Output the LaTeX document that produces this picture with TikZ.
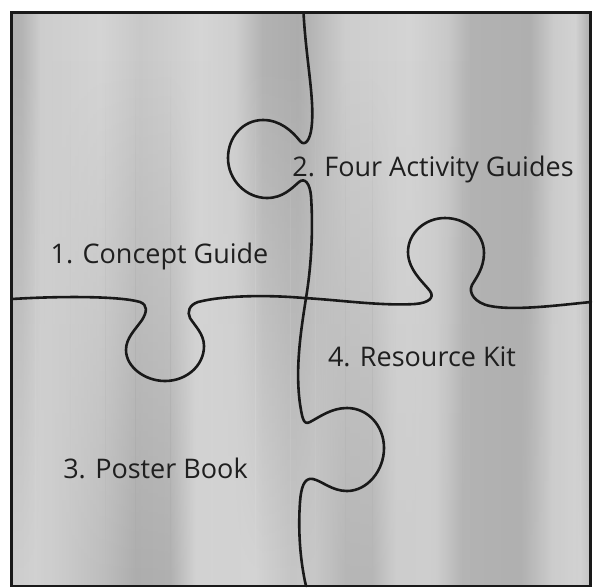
\documentclass[tikz,border=0pt]{standalone}
\usepackage{fontspec}
\setmainfont{Open Sans}
\usetikzlibrary{fadings}
\begin{document}
\begin{tikzpicture}[x=1pt,y=-1pt,
  seam/.style={line width=2.6pt, line cap=round, line join=round, draw=black!90},
  frame/.style={line width=2.8pt, draw=black!90},
  piecetext/.style={font=\fontsize{27}{30}\selectfont, text=black!88, anchor=base, inner sep=0pt}]
\useasboundingbox (0,0) rectangle (593,587);
\fill[white] (0,0) rectangle (593,587);

% upper layer of soft vertical streaks
\foreach \xa/\ga/\xb/\gb in {11/176/22/180, 22/180/40/205, 40/205/100/212, 100/212/140/200,
    140/200/165/205, 165/205/200/213, 200/213/235/206, 235/206/262/178, 262/178/298/172,
    298/172/318/186, 318/186/345/205, 345/205/410/212, 410/212/448/200, 448/200/470/178,
    470/178/530/175, 530/175/553/203, 553/203/575/210, 575/210/586/182, 586/182/591/176}
  \shade[left color={rgb,255:red,\ga;green,\ga;blue,\ga},
         right color={rgb,255:red,\gb;green,\gb;blue,\gb}]
    (\xa,12) rectangle (\xb+0.6,586);

% lower layer of streaks, fading in towards the bottom
\foreach \xa/\ga/\xb/\gb in {11/205/35/210, 35/210/70/200, 70/200/105/188, 105/188/135/173,
    135/173/170/176, 170/176/195/210, 195/210/255/212, 255/212/290/198, 290/198/315/200,
    315/200/345/182, 345/182/372/182, 372/182/395/205, 395/205/435/206, 435/206/462/180,
    462/180/520/176, 520/176/552/205, 552/205/580/210, 580/210/591/195}
  \shade[left color={rgb,255:red,\ga;green,\ga;blue,\ga},
         right color={rgb,255:red,\gb;green,\gb;blue,\gb}, path fading=north]
    (\xa,60) rectangle (\xb+0.6,586);

% vertical seam with its two knobs
\draw[seam] (303.5,12.5) .. controls (306,60) and (315,100) .. (311.5,128)
  .. controls (310,140) and (305,147) .. (300,141)
  .. controls (292,131) and (280,120) .. (263,120)
  .. controls (243,120) and (228,137) .. (228,158)
  .. controls (228,180) and (246,198) .. (267,198)
  .. controls (283,198) and (292,188) .. (299,182)
  .. controls (305,177) and (310,184) .. (311,196)
  .. controls (313,225) and (312,262) .. (306,298)
  .. controls (301,330) and (295,368) .. (300,404)
  .. controls (302,416) and (303,426) .. (310,422)
  .. controls (321,416) and (332,408) .. (347,408)
  .. controls (368,408) and (384,426) .. (384,448)
  .. controls (384,471) and (367,491) .. (347,491)
  .. controls (332,491) and (322,481) .. (313,479)
  .. controls (304,477) and (301,488) .. (300,502)
  .. controls (298,530) and (300,560) .. (306,586);

% horizontal seam with its two knobs
\draw[seam] (12,299) .. controls (60,296) and (120,296) .. (140,302)
  .. controls (148,305) and (147,312) .. (142,320)
  .. controls (135,330) and (126,338) .. (126,350)
  .. controls (126,367) and (145,381) .. (165,381)
  .. controls (186,381) and (204,366) .. (204,346)
  .. controls (204,334) and (195,326) .. (190,318)
  .. controls (187,312) and (189,305) .. (198,302)
  .. controls (225,295) and (270,295) .. (304,298)
  .. controls (340,300) and (380,306) .. (415,304)
  .. controls (428,303) and (435,298) .. (430,291)
  .. controls (424,283) and (408,270) .. (408,252)
  .. controls (408,233) and (425,218) .. (445,218)
  .. controls (466,218) and (484,233) .. (484,253)
  .. controls (484,268) and (476,278) .. (472,285)
  .. controls (468,293) and (475,303) .. (490,306)
  .. controls (515,311) and (560,305) .. (591,302);

% outer frame
\draw[frame] (11.5,12.5) rectangle (590.5,586);

% piece captions
\node[piecetext] (concept)  at (159.5,263) {1. Concept Guide};
\node[piecetext] (activity) at (433,176)   {2. Four Activity Guides};
\node[piecetext] (resource) at (422,366)   {4. Resource Kit};
\node[piecetext] (poster)   at (155.5,478) {3. Poster Book};
\end{tikzpicture}
\end{document}
